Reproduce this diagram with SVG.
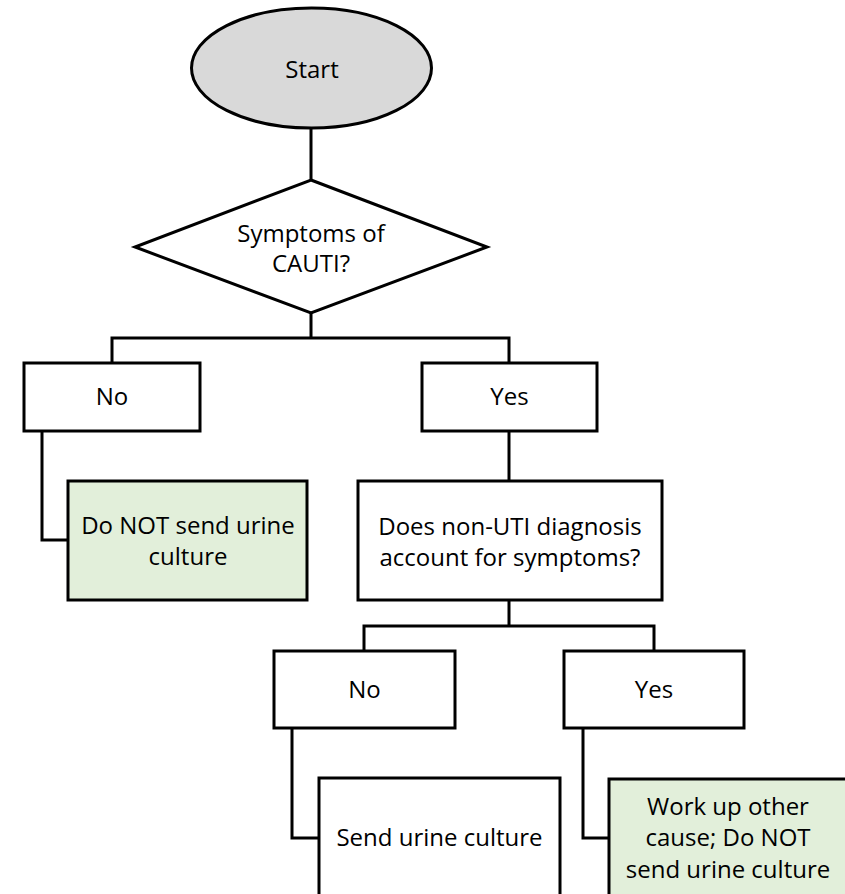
<svg xmlns="http://www.w3.org/2000/svg" width="845" height="894" viewBox="0 0 845 894">
<style>
.s{stroke:#000;stroke-width:3;}
.w{fill:#fff;}
.g{fill:#e2efda;}
.c{fill:none;stroke:#000;stroke-width:3;}
text{font-family:"Open Sans","Liberation Sans",sans-serif;font-size:24px;fill:#000;text-anchor:middle;}
</style>
<rect width="845" height="894" fill="#fff"/>
<g id="connectors">
<path class="c" d="M311,128 V180"/>
<path class="c" d="M311,313 V338 M112,363 V338 H509 V363"/>
<path class="c" d="M509,431 V481"/>
<path class="c" d="M42,431 V540 H68"/>
<path class="c" d="M509,600 V626 M364,651 V626 H654 V651"/>
<path class="c" d="M292,728 V838 H319"/>
<path class="c" d="M583,728 V838 H609"/>
</g>
<g id="start">
<ellipse class="s" cx="311.5" cy="68" rx="120" ry="60" fill="#d9d9d9"/>
<text x="312" y="78">Start</text>
</g>
<g id="symptoms">
<polygon class="s w" points="311,180 487,247 311,313 135,247"/>
<text x="311" y="242">Symptoms of</text>
<text x="311" y="272">CAUTI?</text>
</g>
<g id="no1">
<rect class="s w" x="24" y="363" width="176" height="68"/>
<text x="112" y="405">No</text>
</g>
<g id="yes1">
<rect class="s w" x="422" y="363" width="175" height="68"/>
<text x="509.5" y="405">Yes</text>
</g>
<g id="donot1">
<rect class="s g" x="68" y="481" width="239" height="119"/>
<text x="188" y="534">Do NOT send urine</text>
<text x="188" y="565">culture</text>
</g>
<g id="nonuti">
<rect class="s w" x="358" y="481" width="304" height="119"/>
<text x="510" y="535">Does non-UTI diagnosis</text>
<text x="510" y="566">account for symptoms?</text>
</g>
<g id="no2">
<rect class="s w" x="274" y="651" width="181" height="77"/>
<text x="364.5" y="698">No</text>
</g>
<g id="yes2">
<rect class="s w" x="564" y="651" width="180" height="77"/>
<text x="654" y="698">Yes</text>
</g>
<g id="send">
<rect class="s w" x="319" y="778" width="241" height="130"/>
<text x="439.5" y="846">Send urine culture</text>
</g>
<g id="workup">
<rect class="s g" x="609" y="779" width="238" height="130"/>
<text x="728" y="815">Work up other</text>
<text x="728" y="846">cause; Do NOT</text>
<text x="728" y="878">send urine culture</text>
</g>
</svg>
